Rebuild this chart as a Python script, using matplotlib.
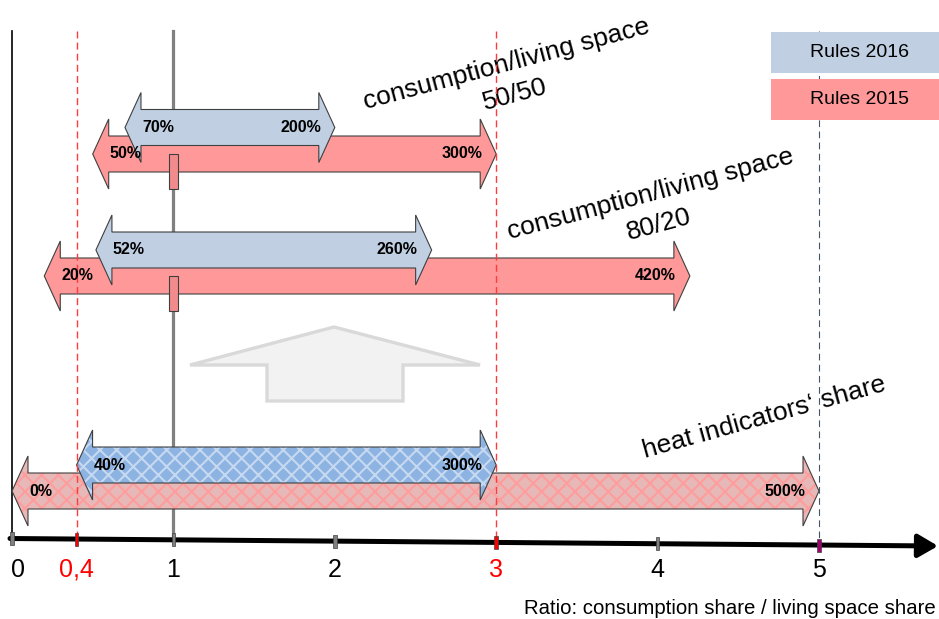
import math
import matplotlib
matplotlib.use("Agg")
import matplotlib.pyplot as plt
from matplotlib.patches import Polygon, Rectangle
from matplotlib import font_manager as fm

# ---------------- data ----------------
group_titles = ["consumption/living space", "consumption/living space", "heat indicators\u2018 share"]
group_ratios = ["50/50", "80/20", ""]
rules2016_low = [0.70, 0.52, 0.40]
rules2016_high = [2.00, 2.60, 3.00]
rules2015_low = [0.50, 0.20, 0.00]
rules2015_high = [3.00, 4.20, 5.00]
hatched = [False, False, True]
marker_value = [1.0, 1.0, None]
axis_ticks = [0, 0.4, 1, 2, 3, 4, 5]
axis_tick_labels = ["0", "0,4", "1", "2", "3", "4", "5"]
axis_tick_colors = ["#808080", "#FF0000", "#808080", "#808080", "#FF0000", "#808080", "#A0006E"]
axis_label_colors = ["black", "red", "black", "black", "red", "black", "black"]
ref_lines = [0.4, 3, 5]
legend_labels = ["Rules 2016", "Rules 2015"]
axis_caption = "Ratio: consumption share / living space share"

# ---------------- style / layout ----------------
W, H = 939, 619
PX = 161.4          # pixels per unit
X0PX = 12           # pixel of value 0
BLUE = "#C0CFE2"
PINK = "#FF9999"
HBLUE, HBLUE_L = "#8DB3E2", "#C6D9F1"
HPINK, HPINK_L = "#E6B9B8", "#FF9C9C"
EDGE = "#3F3F3F"
row_blue_y = [127.5, 250, 465]
row_pink_y = [154, 276, 491]
SHAFT, HEADW = 18, 35
HEAD = 16 / PX

plt.rcParams["font.family"] = ["Liberation Sans", "DejaVu Sans"]
plt.rcParams["hatch.linewidth"] = 1.5
try:
    fm.findfont(fm.FontProperties(family="Liberation Sans Narrow"), fallback_to_default=False)
    NARROW = True
except Exception:
    NARROW = False

fig = plt.figure(figsize=(W / 100, H / 100), dpi=100)
ax = fig.add_axes([0, 0, 1, 1])
ax.set_xlim(-X0PX / PX, (W - X0PX) / PX)
ax.set_ylim(H, 0)
ax.axis("off")
deco = fig.add_axes([0, 0, 1, 1], zorder=-1)
deco.set_xlim(0, W)
deco.set_ylim(H, 0)
deco.axis("off")
deco.patch.set_alpha(0)
ax.patch.set_alpha(0)


def arrow_pts(x0, x1, yc):
    return [(x0, yc), (x0 + HEAD, yc - HEADW), (x0 + HEAD, yc - SHAFT),
            (x1 - HEAD, yc - SHAFT), (x1 - HEAD, yc - HEADW), (x1, yc),
            (x1 - HEAD, yc + HEADW), (x1 - HEAD, yc + SHAFT),
            (x0 + HEAD, yc + SHAFT), (x0 + HEAD, yc + HEADW)]


def draw_arrow(x0, x1, yc, face, hatch_col, z):
    pts = arrow_pts(x0, x1, yc)
    if hatch_col is None:
        ax.add_patch(Polygon(pts, closed=True, facecolor=face, edgecolor=EDGE, lw=0.8, zorder=z))
    else:
        ax.add_patch(Polygon(pts, closed=True, facecolor=face, edgecolor=hatch_col, hatch="xx", lw=0, zorder=z))
        ax.add_patch(Polygon(pts, closed=True, fill=False, edgecolor=EDGE, lw=0.8, zorder=z + 0.1))
    lab_kw = dict(fontsize=11.5, fontweight="bold", va="center", zorder=10)
    ax.text(x0 + HEAD + 1.0 / PX, yc, f"{round(x0 * 100)}%", ha="left", **lab_kw)
    ax.text(x1 - HEAD + 2.0 / PX, yc, f"{round(x1 * 100)}%", ha="right", **lab_kw)


# vertical guide lines
top_y, bot_y = 31, 540
ax.plot([0, 0], [top_y, bot_y], color="black", lw=1.2, zorder=1)
ax.plot([1, 1], [top_y, bot_y], color="#808080", lw=2.3, zorder=1)
for v in ref_lines:
    if v == 5:
        ax.plot([v, v], [top_y, bot_y], color="#44546A", lw=0.8, ls=(0, (6, 4)), zorder=7)
    else:
        ax.plot([v, v], [top_y, bot_y], color="#FF3B3B", lw=1.0, ls=(0, (5, 3)), zorder=7)

# arrows
for i in range(3):
    if hatched[i]:
        draw_arrow(rules2015_low[i], rules2015_high[i], row_pink_y[i], HPINK, HPINK_L, 2)
        draw_arrow(rules2016_low[i], rules2016_high[i], row_blue_y[i], HBLUE, HBLUE_L, 3)
    else:
        draw_arrow(rules2015_low[i], rules2015_high[i], row_pink_y[i], PINK, None, 2)
        draw_arrow(rules2016_low[i], rules2016_high[i], row_blue_y[i], BLUE, None, 3)
    if marker_value[i] is not None:
        mw = 9 / PX
        ax.add_patch(Rectangle((marker_value[i] - mw / 2, row_pink_y[i]), mw, HEADW,
                               facecolor="#F28C8C", edgecolor=EDGE, lw=0.8, zorder=4))

# group titles (rotated)
title_pos = [(508.5, 70.5, 15.0), (652, 201, 15.0), (766, 424, 15.6)]
for (tx, ty, rot), t, r in zip(title_pos, group_titles, group_ratios):
    deco.text(tx, ty, t, fontsize=19, rotation=rot, rotation_mode="anchor",
              ha="center", va="baseline", zorder=8)
    if r:
        d = 32
        deco.text(tx + d * math.sin(math.radians(rot)), ty + d * math.cos(math.radians(rot)), r,
                  fontsize=19, rotation=rot, rotation_mode="anchor", ha="center", va="baseline", zorder=8)

# decorative up arrow
up = [(190, 365), (334, 327), (480, 365), (403, 365), (403, 401), (267, 401), (267, 365)]
deco.add_patch(Polygon(up, closed=True, facecolor="#F2F2F2", edgecolor="#D9D9D9", lw=2.4, zorder=2))

# legend boxes
leg_x = 771
for j, (lab, col) in enumerate(zip(legend_labels, [BLUE, PINK])):
    y0 = 32 + j * 47
    fig.add_artist(Rectangle((leg_x / W, 1 - (y0 + 41) / H), (W - leg_x) / W, 41 / H,
                             transform=fig.transFigure, facecolor=col, edgecolor="none", zorder=20))
    fig.text(860 / W, 1 - (y0 + 20.5) / H, lab, fontsize=14, ha="center", va="center", zorder=21)


# x axis with arrow
def axis_y(px):
    return 538.5 + (px - 10) * (7.5 / 928)


ax.annotate("", xy=((938 - X0PX) / PX, axis_y(938)), xytext=(-2 / PX, axis_y(10)),
            arrowprops=dict(arrowstyle="-|>,head_length=0.6,head_width=0.35", lw=3.6,
                            color="black", shrinkA=0, shrinkB=0, mutation_scale=20), zorder=8)
for v, lab, tc, lc in zip(axis_ticks, axis_tick_labels, axis_tick_colors, axis_label_colors):
    px = X0PX + v * PX
    yc = axis_y(px)
    tw = 3.5 / PX
    ax.add_patch(Rectangle((v - tw / 2, yc - 6.5), tw, 13, facecolor=tc, edgecolor="#404040",
                           lw=0.5, zorder=9))
    dx = 5.5 / PX if v == 0 else 0
    ax.text(v + dx, 577, lab, fontsize=18, color=lc, ha="center", va="baseline", zorder=9)

if NARROW:
    deco.text(936, 614, axis_caption, fontsize=17, family="Liberation Sans Narrow",
              ha="right", va="baseline")
else:
    deco.text(936, 614, axis_caption, fontsize=14.7, ha="right", va="baseline")

fig.savefig("out.png", dpi=100)
